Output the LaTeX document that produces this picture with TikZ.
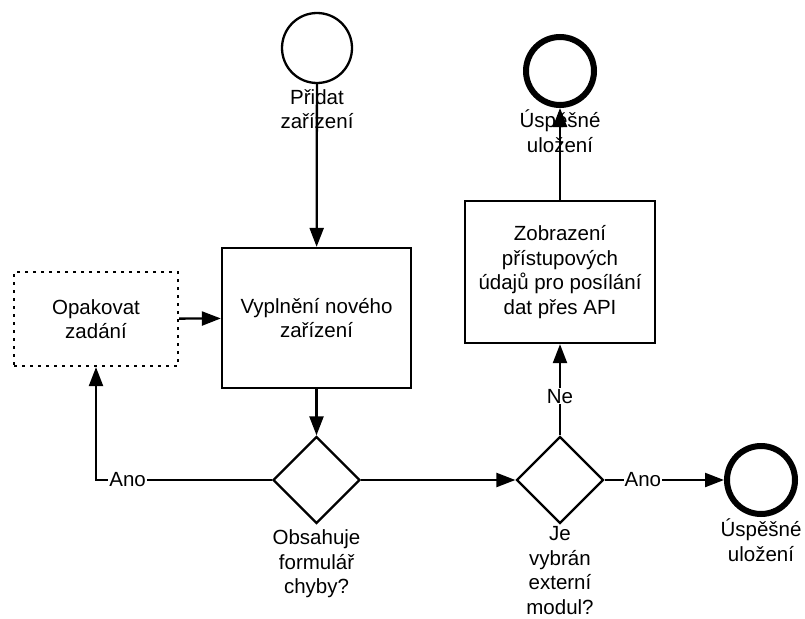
\documentclass[tikz,border=0pt]{standalone}
\usepackage{fontspec}
\setmainfont{Liberation Sans}
\usetikzlibrary{arrows.meta,positioning,shapes.geometric}

\begin{document}
\begin{tikzpicture}[
    x=1pt,
    y=-1pt,
    line width=2.3pt,
    every node/.style={font=\fontsize{20.5}{24.5}\selectfont},
    task/.style={draw, line width=2.3pt, align=center, minimum width=189pt, minimum height=140pt, inner sep=2pt},
    retry/.style={draw, line width=2.3pt, dash pattern=on 3pt off 5pt, align=center, minimum width=164pt, minimum height=94pt},
    gate/.style={draw, diamond, aspect=1, line width=2.3pt, minimum width=87pt, minimum height=87pt, inner sep=0pt},
    startev/.style={draw, circle, line width=2.3pt, minimum size=70pt, inner sep=0pt},
    endev/.style={draw, circle, line width=6pt, minimum size=68pt, inner sep=0pt},
    txt/.style={align=center, inner sep=0pt},
    rlabel/.style={fill=white, inner sep=1pt},
    arrow/.style={-{Triangle[length=19pt, width=14pt]}, line width=2.3pt}
  ]
    \useasboundingbox (0,0) rectangle (805,618);

    % -- Udalosti --
    \node[startev] (start) at (317, 48) {};
    \node[txt] (startlbl) at (317, 109) {Přidat\\zařízení};
    \node[endev] (done1) at (560, 71) {};
    \node[txt] (done1lbl) at (560, 131) {Úspěšné\\uložení};
    \node[endev] (done2) at (761, 480) {};
    \node[txt] (done2lbl) at (761, 540) {Úspěšné\\uložení};

    % -- Ulohy --
    \node[task] (fill) at (316.5, 318) {Vyplnění nového\\zařízení};
    \node[retry] (again) at (96, 319) {Opakovat\\zadání};
    \node[task, minimum width=190pt, minimum height=142pt] (keys) at (560, 272) {Zobrazení\\přístupových\\údajů pro posílání\\dat přes API};

    % -- Rozhodnuti --
    \node[gate] (errs) at (316.5, 480) {};
    \node[txt, below=4pt of errs] (errslbl) {Obsahuje\\formulář\\chyby?};
    \node[gate] (ext) at (560, 480) {};
    \node[txt, below=1pt of ext] (extlbl) {Je\\vybrán\\externí\\modul?};

    % -- Sipky --
    \draw[arrow] (start) -- (fill);
    \draw[arrow] (again) -- (fill);
    \draw[arrow] (fill) -- (errs);
    \draw[arrow] (errs.west) -| node[rlabel, pos=0.41]{Ano} (again.south);
    \draw[arrow] (errs.east) -- (ext.west);
    \draw[arrow] (ext.north) -- node[rlabel, pos=0.43]{Ne} (keys.south);
    \draw[arrow] (ext.east) -- node[rlabel, pos=0.32]{Ano} (done2.west);
    \draw[arrow] (keys.north) -- (done1.south);
  \end{tikzpicture}
\end{document}
